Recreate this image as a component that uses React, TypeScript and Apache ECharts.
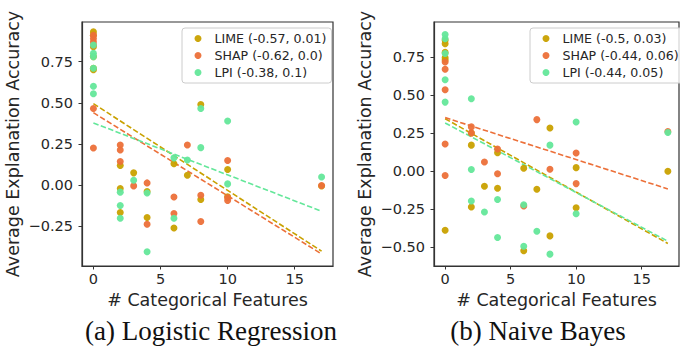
import React, { useEffect, useRef } from "react";
import * as echarts from "echarts";

// ---------- data ----------
const methods = ["LIME", "SHAP", "LPI"];
const colors = ["#c9a100", "#ec7039", "#64e79a"];
const leftStats = ["-0.57, 0.01", "-0.62, 0.0", "-0.38, 0.1"];
const rightStats = ["-0.5, 0.03", "-0.44, 0.06", "-0.44, 0.05"];
const xTicks = [0, 5, 10, 15];
const leftYTicks = [-0.25, 0, 0.25, 0.5, 0.75];
const rightYTicks = [-0.5, -0.25, 0, 0.25, 0.5, 0.75];
const captions = ["(a) Logistic Regression", "(b) Naive Bayes"];

// Logistic Regression
const lrLimeX = [0, 0, 0, 0, 0, 0, 2, 2, 2, 3, 4, 4, 6, 6, 7, 8, 8, 10, 10, 17];
const lrLimeY = [0.93, 0.91, 0.84, 0.78, 0.71, 0.70, 0.12, -0.02, -0.165, 0.075, -0.038, -0.196, 0.13, -0.26, 0.06, 0.49, -0.087, 0.095, -0.07, -0.005];
const lrShapX = [0, 0, 0, 0, 0, 0, 2, 2, 2, 3, 4, 4, 6, 6, 7, 8, 8, 10, 10, 10, 17];
const lrShapY = [0.91, 0.89, 0.87, 0.85, 0.465, 0.226, 0.244, 0.214, 0.144, -0.004, 0.014, -0.237, -0.071, -0.172, 0.244, -0.061, -0.22, 0.15, -0.075, -0.093, -0.002];
const lrLpiX = [0, 0, 0, 0, 0, 0, 2, 2, 2, 3, 4, 4, 6, 6, 7, 8, 8, 10, 10, 17];
const lrLpiY = [0.85, 0.80, 0.78, 0.71, 0.60, 0.555, -0.042, -0.123, -0.20, 0.03, -0.047, -0.404, 0.166, -0.2, 0.153, 0.465, 0.228, 0.39, 0.008, 0.05];
// trend lines: value at x=0 and at x=17
const lrTrendX = [0, 17];
const lrLimeTrend = [0.495, -0.40];
const lrShapTrend = [0.44, -0.417];
const lrLpiTrend = [0.378, -0.158];

// Naive Bayes
const nbLimeX = [0, 0, 0, 0, 0, 0, 2, 2, 2, 3, 4, 4, 6, 6, 7, 8, 8, 10, 10, 17];
const nbLimeY = [0.86, 0.837, 0.78, 0.745, 0.73, -0.39, 0.25, 0.17, -0.237, -0.10, 0.12, -0.113, 0.018, -0.525, -0.12, 0.283, -0.427, 0.022, -0.242, -0.002];
const nbShapX = [0, 0, 0, 0, 0, 2, 2, 3, 4, 4, 6, 7, 8, 10, 10, 17];
const nbShapY = [0.717, 0.669, 0.534, 0.178, -0.03, 0.29, 0.25, 0.059, 0.145, -0.018, -0.23, 0.338, 0.011, 0.118, -0.083, 0.26];
const nbLpiX = [0, 0, 0, 0, 0, 2, 2, 2, 3, 4, 4, 6, 6, 7, 8, 8, 10, 10, 17];
const nbLpiY = [0.897, 0.87, 0.773, 0.60, 0.453, 0.475, 0.01, -0.198, -0.27, -0.188, -0.438, -0.222, -0.495, -0.397, 0.17, -0.547, 0.322, -0.281, 0.253];
const nbTrendX = [0, 17];
const nbLimeTrend = [0.344, -0.477];
const nbShapTrend = [0.351, -0.118];
const nbLpiTrend = [0.316, -0.462];

// ---------- helpers ----------
const zip = (xs: number[], ys: number[]) => xs.map((x, i) => [x, ys[i]]);
const FONT = "DejaVu Sans";
const TXT = "#262626";
const SPINE = "#333333";

function fmt(v: number) {
  return v.toFixed(2).replace("-", "\u2212");
}

function makeXAxis(gridIndex: number) {
  return {
    gridIndex,
    type: "value",
    min: -0.85,
    max: 17.85,
    name: "# Categorical Features",
    nameLocation: "middle",
    nameGap: 24,
    nameTextStyle: { fontFamily: FONT, fontSize: 17.5, color: TXT },
    axisLine: { show: true, onZero: false, lineStyle: { color: SPINE, width: 1.2 } },
    axisTick: { show: true, inside: false, length: 3.5, customValues: xTicks, lineStyle: { color: SPINE, width: 1 } },
    axisLabel: { customValues: xTicks, margin: 5, fontFamily: FONT, fontSize: 14.5, color: TXT, formatter: (v: number) => String(v) },
    splitLine: { show: false },
  };
}

function makeYAxis(gridIndex: number, min: number, max: number, ticks: number[]) {
  return {
    gridIndex,
    type: "value",
    min,
    max,
    name: "Average Explanation Accuracy",
    nameLocation: "middle",
    nameRotate: 90,
    nameGap: 60,
    nameTextStyle: { fontFamily: FONT, fontSize: 17.5, color: TXT },
    axisLine: { show: true, onZero: false, lineStyle: { color: SPINE, width: 1.2 } },
    axisTick: { show: true, inside: false, length: 3.5, customValues: ticks, lineStyle: { color: SPINE, width: 1 } },
    axisLabel: { customValues: ticks, margin: 9, fontFamily: FONT, fontSize: 14.5, color: TXT, formatter: fmt },
    splitLine: { show: false },
  };
}

function trendSeries(idx: number, color: string, xs: number[], ys: number[]) {
  return {
    type: "line",
    name: "trend" + idx + color,
    xAxisIndex: idx,
    yAxisIndex: idx,
    data: zip(xs, ys),
    symbol: "none",
    silent: true,
    lineStyle: { color, width: 1.6, type: [5.5, 2.4] },
    z: 1,
  };
}

function scatterSeries(idx: number, name: string, color: string, xs: number[], ys: number[]) {
  return {
    type: "scatter",
    name,
    xAxisIndex: idx,
    yAxisIndex: idx,
    data: zip(xs, ys),
    symbol: "circle",
    symbolSize: 7,
    itemStyle: { color, opacity: 0.95 },
    z: 2,
  };
}

function makeLegend(names: string[], left: number) {
  return {
    data: names,
    orient: "vertical",
    left,
    top: 28,
    padding: [4, 5, 4, 12.5],
    itemGap: 4,
    itemWidth: 7,
    itemHeight: 7,
    icon: "circle",
    backgroundColor: "rgba(255,255,255,0.8)",
    borderColor: "#cccccc",
    borderWidth: 1,
    borderRadius: 3,
    formatter: (name: string) => "\u00a0\u00a0" + name,
    textStyle: { fontFamily: FONT, fontSize: 12.6, color: TXT, lineHeight: 13 },
  };
}

export default function App() {
  const ref = useRef<HTMLDivElement>(null);
  useEffect(() => {
    if (!ref.current) return;
    const chart = echarts.init(ref.current, null, { renderer: "svg" });
    const leftNames = methods.map((m, i) => `${m} (${leftStats[i]})`);
    const rightNames = methods.map((m, i) => `${m} (${rightStats[i]})`);
    const lrX = [lrLimeX, lrShapX, lrLpiX];
    const lrY = [lrLimeY, lrShapY, lrLpiY];
    const nbX = [nbLimeX, nbShapX, nbLpiX];
    const nbY = [nbLimeY, nbShapY, nbLpiY];
    const lrT = [lrLimeTrend, lrShapTrend, lrLpiTrend];
    const nbT = [nbLimeTrend, nbShapTrend, nbLpiTrend];

    const series: any[] = [];
    methods.forEach((_, i) => series.push(trendSeries(0, colors[i], lrTrendX, lrT[i])));
    methods.forEach((_, i) => series.push(trendSeries(1, colors[i], nbTrendX, nbT[i])));
    methods.forEach((_, i) => series.push(scatterSeries(0, leftNames[i], colors[i], lrX[i], lrY[i])));
    methods.forEach((_, i) => series.push(scatterSeries(1, rightNames[i], colors[i], nbX[i], nbY[i])));

    chart.setOption({
      animation: false,
      backgroundColor: "#ffffff",
      grid: [
        { left: 82, top: 22, width: 251, height: 244, show: true, borderColor: SPINE, borderWidth: 1.2, backgroundColor: "transparent" },
        { left: 434, top: 22, width: 245, height: 244, show: true, borderColor: SPINE, borderWidth: 1.2, backgroundColor: "transparent" },
      ],
      xAxis: [makeXAxis(0), makeXAxis(1)],
      yAxis: [makeYAxis(0, -0.49, 0.99, leftYTicks), makeYAxis(1, -0.625, 0.98, rightYTicks)],
      legend: [makeLegend(leftNames, 182), makeLegend(rightNames, 530)],
      series,
      graphic: [
        {
          type: "text",
          x: 211,
          y: 331,
          style: { text: captions[0], fontFamily: "Liberation Serif", fontSize: 27, fill: "#111", textAlign: "center", textVerticalAlign: "middle" },
        },
        {
          type: "text",
          x: 538,
          y: 331,
          style: { text: captions[1], fontFamily: "Liberation Serif", fontSize: 27, fill: "#111", textAlign: "center", textVerticalAlign: "middle" },
        },
      ],
    });
    return () => chart.dispose();
  }, []);
  return <div ref={ref} style={{ position: "fixed", left: 0, top: 0, width: 680, height: 350 }} />;
}
